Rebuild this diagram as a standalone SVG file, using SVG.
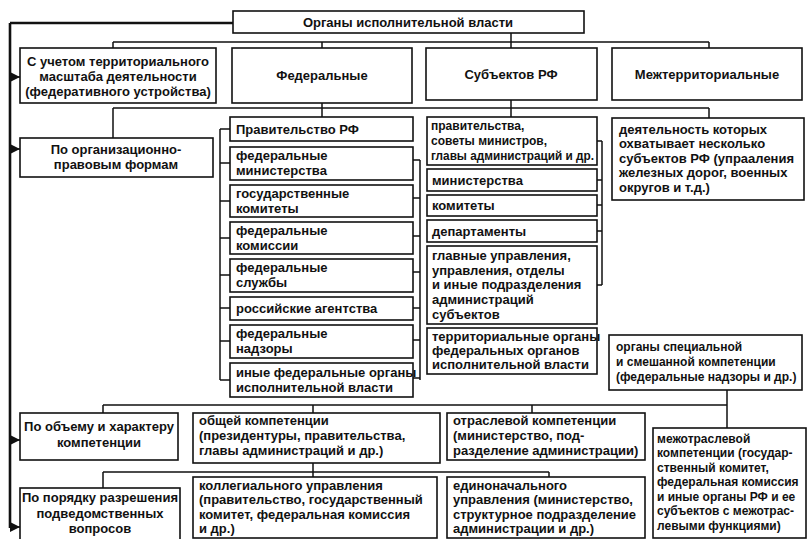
<svg xmlns="http://www.w3.org/2000/svg" width="808" height="539" viewBox="0 0 808 539">
<style>
.box{fill:#fff;stroke:#111;stroke-width:1.6}
.t{font-family:"Liberation Sans",Arial,sans-serif;font-weight:bold;font-size:13px;fill:#111}
.s{font-size:12px}
.c{text-anchor:middle}
.ln{stroke:#111;stroke-width:1.5;fill:none}
.main{stroke:#111;stroke-width:2.6;fill:none}
</style>
<defs>
<marker id="ah" markerWidth="10" markerHeight="10" refX="10" refY="5" orient="auto" markerUnits="userSpaceOnUse"><path d="M0,0 L10,5 L0,10 z" fill="#111"/></marker>
</defs>
<rect width="808" height="539" fill="#fff"/>
<g id="connectors">
<path class="main" d="M10,23 V528 M10,23 H233"/>
<path class="ln" marker-end="url(#ah)" d="M10,77 H20"/>
<path class="ln" marker-end="url(#ah)" d="M10,149 H20"/>
<path class="ln" marker-end="url(#ah)" d="M10,440 H20"/>
<path class="ln" marker-end="url(#ah)" d="M10,527 H20"/>
<path class="ln" d="M113,42 H709 M113,42 V48 M322,42 V48 M511,33 V48 M709,42 V48"/>
<path class="ln" d="M113,108 H709 M113,108 V138 M322,103 V117 M511,100 V117 M709,108 V118"/>
<path class="ln" d="M220,129 V380 M220,129 H230 M220,163 H230 M220,201 H230 M220,238 H230 M220,275 H230 M220,308 H230 M220,341 H230 M220,380 H230"/>
<path class="ln" d="M420,160 V380 M413,160 H420 M413,198 H420 M413,236 H420 M413,272 H420 M413,308 H420 M413,340 H420 M413,378 H420"/>
<path class="ln" d="M602,141 V285 M597,141 H602 M597,180 H602 M597,205 H602 M597,231 H602 M597,285 H602"/>
<path class="ln" d="M103,405 H727 M103,405 V413 M313,405 V413 M532,405 V413 M727,390 V428"/>
<path class="ln" d="M103,472 H549 M103,472 V488 M313,463 V477 M549,472 V477"/>
</g>
<g id="n-root"><rect class="box" x="233" y="11" width="351" height="22"/><text class="t c" x="408" y="27">Органы исполнительной власти</text></g>
<g id="n-terr"><rect class="box" x="20" y="48" width="196" height="55"/><text class="t c" x="118" y="66">С учетом территориального</text><text class="t c" x="118" y="81">масштаба деятельности</text><text class="t c" x="118" y="96">(федеративного устройства)</text></g>
<g id="n-fed"><rect class="box" x="232" y="48" width="180" height="55"/><text class="t c" x="322" y="80">Федеральные</text></g>
<g id="n-subj"><rect class="box" x="426" y="48" width="171" height="52"/><text class="t c" x="511" y="79">Субъектов РФ</text></g>
<g id="n-mezh"><rect class="box" x="612" y="48" width="190" height="52"/><text class="t c" x="707" y="79">Межтерриториальные</text></g>
<g id="n-org"><rect class="box" x="20" y="138" width="193" height="39"/><text class="t c" x="116" y="154">По организационно-</text><text class="t c" x="116" y="169">правовым формам</text></g>
<g id="f1"><rect class="box" x="230" y="117" width="183" height="24"/><text class="t" x="236" y="134">Правительство РФ</text></g>
<g id="f2"><rect class="box" x="230" y="147" width="183" height="33"/><text class="t" x="236" y="160">федеральные</text><text class="t" x="236" y="175">министерства</text></g>
<g id="f3"><rect class="box" x="230" y="185" width="183" height="32"/><text class="t" x="236" y="198">государственные</text><text class="t" x="236" y="213">комитеты</text></g>
<g id="f4"><rect class="box" x="230" y="222" width="183" height="32"/><text class="t" x="236" y="235">федеральные</text><text class="t" x="236" y="250">комиссии</text></g>
<g id="f5"><rect class="box" x="230" y="259" width="183" height="33"/><text class="t" x="236" y="272">федеральные</text><text class="t" x="236" y="287">службы</text></g>
<g id="f6"><rect class="box" x="230" y="297" width="183" height="23"/><text class="t" x="236" y="313">российские агентства</text></g>
<g id="f7"><rect class="box" x="230" y="325" width="183" height="33"/><text class="t" x="236" y="338">федеральные</text><text class="t" x="236" y="353">надзоры</text></g>
<g id="f8"><rect class="box" x="230" y="363" width="183" height="34"/><text class="t" x="236" y="377">иные федеральные органы</text><text class="t" x="236" y="392">исполнительной власти</text></g>
<g id="s1"><rect class="box" x="427" y="117" width="170" height="48"/><text class="t s" x="431" y="130">правительства,</text><text class="t s" x="431" y="145">советы министров,</text><text class="t s" x="431" y="160" textLength="163" lengthAdjust="spacingAndGlyphs">главы администраций и др.</text></g>
<g id="s2"><rect class="box" x="427" y="169" width="170" height="22"/><text class="t" x="432" y="185">министерства</text></g>
<g id="s3"><rect class="box" x="427" y="195" width="170" height="21"/><text class="t" x="432" y="210">комитеты</text></g>
<g id="s4"><rect class="box" x="427" y="220" width="170" height="22"/><text class="t" x="432" y="236">департаменты</text></g>
<g id="s5"><rect class="box" x="427" y="246" width="170" height="78"/><text class="t" x="432" y="260">главные управления,</text><text class="t" x="432" y="275">управления, отделы</text><text class="t" x="432" y="289">и иные подразделения</text><text class="t" x="432" y="304">администраций</text><text class="t" x="432" y="319">субъектов</text></g>
<g id="s6"><rect class="box" x="427" y="328" width="170" height="46"/><text class="t" x="432" y="341">территориальные органы</text><text class="t" x="432" y="355">федеральных органов</text><text class="t" x="432" y="369">исполнительной власти</text></g>
<g id="m1"><rect class="box" x="612" y="118" width="192" height="82"/><text class="t" x="619" y="134">деятельность которых</text><text class="t" x="619" y="148">охватывает несколько</text><text class="t" x="619" y="163">субъектов РФ (упрааления</text><text class="t" x="619" y="177">железных дорог, военных</text><text class="t" x="619" y="192">округов и т.д.)</text></g>
<g id="m2"><rect class="box" x="609" y="335" width="193" height="55"/><text class="t s" x="616" y="351">органы специальной</text><text class="t s" x="616" y="366">и смешанной компетенции</text><text class="t s" x="616" y="381">(федеральные надзоры и др.)</text></g>
<g id="b1"><rect class="box" x="20" y="413" width="158" height="47"/><text class="t c" x="99" y="431">По объему и характеру</text><text class="t c" x="99" y="447">компетенции</text></g>
<g id="b2"><rect class="box" x="193" y="413" width="247" height="50"/><text class="t" x="199" y="425">общей компетенции</text><text class="t" x="199" y="440">(президентуры, правительства,</text><text class="t" x="199" y="455">главы администраций и др.)</text></g>
<g id="b3"><rect class="box" x="447" y="413" width="198" height="47"/><text class="t" x="453" y="425">отраслевой компетенции</text><text class="t" x="453" y="440">(министерство, под-</text><text class="t" x="453" y="455">разделение администрации)</text></g>
<g id="b4"><rect class="box" x="653" y="428" width="153" height="110"/><text class="t s" x="657" y="443">межотраслевой</text><text class="t s" x="657" y="457">компетенции (государ-</text><text class="t s" x="657" y="472">ственный комитет,</text><text class="t s" x="657" y="486">федеральная комиссия</text><text class="t s" x="657" y="501">и иные органы РФ и ее</text><text class="t s" x="657" y="515">субъектов с межотрас-</text><text class="t s" x="657" y="530">левыми функциями)</text></g>
<g id="b5"><rect class="box" x="20" y="488" width="160" height="52"/><text class="t c" x="100" y="502">По порядку разрешения</text><text class="t c" x="100" y="518">подведомственных</text><text class="t c" x="100" y="533">вопросов</text></g>
<g id="b6"><rect class="box" x="193" y="477" width="244" height="61"/><text class="t" x="199" y="490">коллегиального управления</text><text class="t" x="199" y="504">(правительство, государственный</text><text class="t" x="199" y="519">комитет, федеральная комиссия</text><text class="t" x="199" y="533">и др.)</text></g>
<g id="b7"><rect class="box" x="447" y="477" width="198" height="61"/><text class="t" x="453" y="490">единоначального</text><text class="t" x="453" y="504">управления (министерство,</text><text class="t" x="453" y="519">структурное подразделение</text><text class="t" x="453" y="533">администрации и др.)</text></g>
</svg>
